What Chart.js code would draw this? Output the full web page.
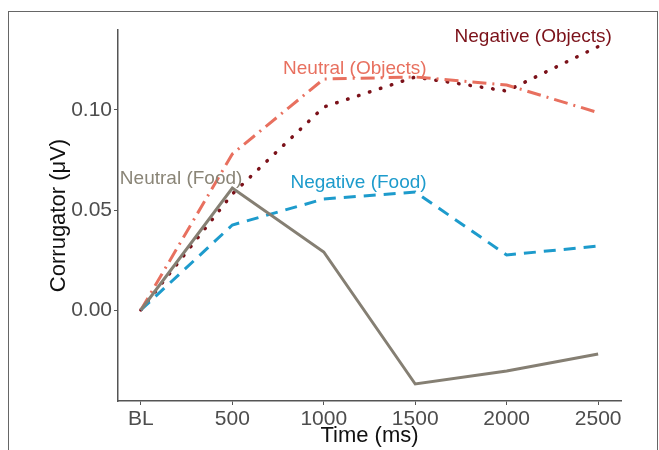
<!DOCTYPE html>
<html>
<head>
<meta charset="utf-8">
<script src="https://cdn.jsdelivr.net/npm/chart.js@4/dist/chart.umd.min.js"></script>
<style>
  body { margin: 0; background: #fff; }
  #wrap { position: relative; width: 659px; height: 450px; overflow: hidden; }
  #frame { position: absolute; left: 8px; top: 11px; width: 648px; height: 460px;
           border: 1px solid #666; border-bottom: none; }
  canvas { position: absolute; left: 0; top: 0; }
</style>
</head>
<body>
<div id="wrap">
  <div id="frame"></div>
  <canvas id="chart" width="659" height="450"></canvas>
</div>
<script>
// time points
var timeLabels = ['BL', '500', '1000', '1500', '2000', '2500'];
var yTicks = [0, 0.05, 0.10];

// corrugator values per condition
var neutralFood     = [0, 0.061, 0.029, -0.037, -0.0305, -0.022];
var negativeFood    = [0, 0.0425, 0.0555, 0.059, 0.0275, 0.032];
var neutralObjects  = [0, 0.078, 0.1155, 0.1165, 0.1125, 0.0987];
var negativeObjects = [0, 0.058, 0.1015, 0.1165, 0.1095, 0.1317];

// direct labels (anchor in data units)
var labelNames = ['Negative (Objects)', 'Neutral (Objects)', 'Neutral (Food)', 'Negative (Food)'];
var labelX = [4.29, 2.34, 0.44, 2.38];
var labelY = [0.1365, 0.1205, 0.0655, 0.0635];
var labelColors = ['#7b1119', '#e8705f', '#8a8577', '#1d9bcc'];

function pts(arr) {
    return arr.map(function (v, i) { return { x: i, y: v }; });
}

var directLabels = {
    id: 'directLabels',
    afterDatasetsDraw: function (chart) {
        var ctx = chart.ctx;
        var xs = chart.scales.x, ys = chart.scales.y;
        ctx.save();
        ctx.font = '19px "Liberation Sans", Arial, sans-serif';
        ctx.textAlign = 'center';
        ctx.textBaseline = 'middle';
        for (var i = 0; i < labelNames.length; i++) {
            ctx.fillStyle = labelColors[i];
            ctx.fillText(labelNames[i], xs.getPixelForValue(labelX[i]), ys.getPixelForValue(labelY[i]));
        }
        ctx.restore();
    }
};

var ctx = document.getElementById('chart');
var chart = new Chart(ctx, {
    type: 'line',
    data: {
        datasets: [
            {
                label: 'Neutral (Food)',
                data: pts(neutralFood),
                borderColor: '#857f73',
                borderWidth: 3
            },
            {
                label: 'Negative (Food)',
                data: pts(negativeFood),
                borderColor: '#1d9bcc',
                borderWidth: 3,
                borderDash: [12, 8]
            },
            {
                label: 'Neutral (Objects)',
                data: pts(neutralObjects),
                borderColor: '#e8705f',
                borderWidth: 3,
                borderDash: [14, 6, 2, 6]
            },
            {
                label: 'Negative (Objects)',
                data: pts(negativeObjects),
                borderColor: '#7b1119',
                borderWidth: 3.5,
                borderCapStyle: 'round',
                borderDash: [0.5, 11]
            }
        ]
    },
    options: {
        responsive: false,
        animation: false,
        layout: { padding: { left: 0, right: 38, top: 30, bottom: 0 } },
        elements: { point: { radius: 0 }, line: { tension: 0 } },
        plugins: { legend: { display: false }, tooltip: { enabled: false } },
        scales: {
            x: {
                type: 'linear',
                min: -0.25,
                max: 5.25,
                afterBuildTicks: function (s) { s.ticks = timeLabels.map(function (t, i) { return { value: i }; }); },
                afterFit: function (s) { s.height = 49; },
                ticks: {
                    callback: function (v) { return timeLabels[v]; },
                    color: '#4d4d4d',
                    font: { family: '"Liberation Sans", Arial, sans-serif', size: 21 },
                    padding: 2,
                    maxRotation: 0
                },
                grid: { drawOnChartArea: false, drawTicks: true, tickLength: 4, color: '#555', lineWidth: 1 },
                border: { color: '#555', width: 1.5 },
                title: {
                    display: true,
                    text: 'Time (ms)',
                    color: '#111',
                    font: { family: '"Liberation Sans", Arial, sans-serif', size: 22 },
                    padding: { top: 0, bottom: 1 }
                }
            },
            y: {
                min: -0.0455,
                max: 0.14,
                afterBuildTicks: function (s) { s.ticks = yTicks.map(function (v) { return { value: v }; }); },
                afterFit: function (s) { s.width = 118; },
                ticks: {
                    callback: function (v) { return v.toFixed(2); },
                    color: '#4d4d4d',
                    font: { family: '"Liberation Sans", Arial, sans-serif', size: 21 },
                    padding: 2
                },
                grid: { drawOnChartArea: false, drawTicks: true, tickLength: 4, color: '#555', lineWidth: 1 },
                border: { color: '#555', width: 1.5 },
                title: {
                    display: true,
                    text: 'Corrugator (μV)',
                    color: '#111',
                    font: { family: '"Liberation Sans", Arial, sans-serif', size: 22 },
                    padding: { top: 46, bottom: 0 }
                }
            }
        }
    },
    plugins: [directLabels]
});
</script>
</body>
</html>
